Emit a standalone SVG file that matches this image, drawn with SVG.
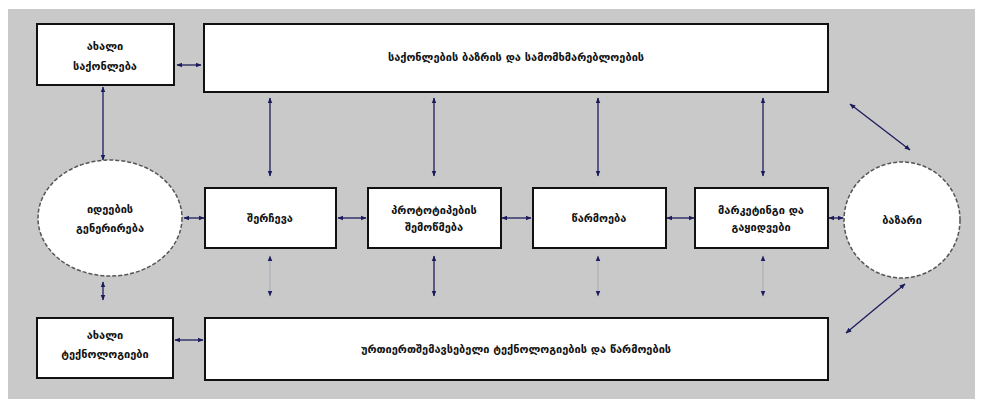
<svg xmlns="http://www.w3.org/2000/svg" width="984" height="406" viewBox="0 0 984 406">
<style>
.bg{fill:#c9c9c9}
.box{fill:#fff;stroke:#111;stroke-width:2}
.ell{fill:#fff;stroke:#555;stroke-width:1.5;stroke-dasharray:4 2}
.t{font-family:"DejaVu Sans","Noto Sans",sans-serif;font-size:11px;font-weight:bold;fill:#111;text-anchor:middle}
.c{stroke:#1c1c5c;stroke-width:1.3;fill:none}
</style>
<defs>
<marker id="ah" viewBox="0 0 10 10" refX="9" refY="5" markerWidth="6" markerHeight="6" orient="auto-start-reverse" markerUnits="userSpaceOnUse">
<path d="M0,1 L10,5 L0,9 z" fill="#1c1c5c"/>
</marker>
</defs>
<rect x="0" y="0" width="984" height="406" fill="#fff"/>
<rect class="bg" x="8" y="9" width="967" height="390"/>

<g id="connectors">
<line class="c" x1="177" y1="65" x2="201" y2="65" marker-start="url(#ah)" marker-end="url(#ah)"/>
<line class="c" x1="103" y1="87" x2="103" y2="160" marker-start="url(#ah)" marker-end="url(#ah)"/>
<line class="c" x1="103" y1="282" x2="103" y2="300" marker-start="url(#ah)" marker-end="url(#ah)"/>
<line class="c" x1="175" y1="340" x2="203" y2="340" marker-start="url(#ah)" marker-end="url(#ah)"/>
<line class="c" x1="270" y1="98" x2="270" y2="176" marker-start="url(#ah)" marker-end="url(#ah)"/>
<line class="c" x1="434" y1="98" x2="434" y2="176" marker-start="url(#ah)" marker-end="url(#ah)"/>
<line class="c" x1="598" y1="98" x2="598" y2="176" marker-start="url(#ah)" marker-end="url(#ah)"/>
<line class="c" x1="763" y1="98" x2="763" y2="176" marker-start="url(#ah)" marker-end="url(#ah)"/>
<line class="c" x1="270" y1="256" x2="270" y2="296" stroke-opacity="0.15" marker-start="url(#ah)" marker-end="url(#ah)"/>
<line class="c" x1="434" y1="256" x2="434" y2="296" marker-start="url(#ah)" marker-end="url(#ah)"/>
<line class="c" x1="598" y1="256" x2="598" y2="296" stroke-opacity="0.15" marker-start="url(#ah)" marker-end="url(#ah)"/>
<line class="c" x1="763" y1="256" x2="763" y2="296" stroke-opacity="0.15" marker-start="url(#ah)" marker-end="url(#ah)"/>
<line class="c" x1="184" y1="218" x2="204" y2="218" marker-start="url(#ah)" marker-end="url(#ah)"/>
<line class="c" x1="338" y1="218" x2="366" y2="218" marker-start="url(#ah)" marker-end="url(#ah)"/>
<line class="c" x1="502" y1="218" x2="531" y2="218" marker-start="url(#ah)" marker-end="url(#ah)"/>
<line class="c" x1="667" y1="218" x2="694" y2="218" marker-start="url(#ah)" marker-end="url(#ah)"/>
<line class="c" x1="829" y1="218" x2="843" y2="218" marker-start="url(#ah)" marker-end="url(#ah)"/>
<line class="c" x1="850" y1="104" x2="910" y2="150" marker-start="url(#ah)" marker-end="url(#ah)"/>
<line class="c" x1="905" y1="284" x2="846" y2="333" marker-start="url(#ah)" marker-end="url(#ah)"/>
</g>

<g id="new-goods">
<rect class="box" x="37" y="24" width="137" height="61"/>
<text class="t" x="105" y="50">ახალი</text>
<text class="t" x="105" y="70">საქონლება</text>
</g>
<g id="market-research">
<rect class="box" x="204" y="24" width="624" height="68"/>
<text class="t" x="516" y="61">საქონლების ბაზრის და სამომხმარებლოების</text>
</g>
<g id="idea-generation">
<ellipse class="ell" cx="110" cy="218" rx="72" ry="58"/>
<text class="t" x="110" y="213">იდეების</text>
<text class="t" x="110" y="232">გენერირება</text>
</g>
<g id="selection">
<rect class="box" x="205" y="188" width="131" height="60"/>
<text class="t" x="270" y="222">შერჩევა</text>
</g>
<g id="prototype">
<rect class="box" x="368" y="188" width="133" height="60"/>
<text class="t" x="434" y="214">პროტოტიპების</text>
<text class="t" x="434" y="231">შემოწმება</text>
</g>
<g id="production">
<rect class="box" x="533" y="188" width="133" height="60"/>
<text class="t" x="599" y="222">წარმოება</text>
</g>
<g id="marketing">
<rect class="box" x="695" y="188" width="133" height="60"/>
<text class="t" x="761" y="214">მარკეტინგი და</text>
<text class="t" x="761" y="231">გაყიდვები</text>
</g>
<g id="market">
<ellipse class="ell" cx="902" cy="220" rx="58" ry="58"/>
<text class="t" x="902" y="224">ბაზარი</text>
</g>
<g id="new-tech">
<rect class="box" x="37" y="318" width="136" height="60"/>
<text class="t" x="105" y="339">ახალი</text>
<text class="t" x="105" y="358">ტექნოლოგიები</text>
</g>
<g id="complementary">
<rect class="box" x="205" y="318" width="623" height="62"/>
<text class="t" x="516" y="353">ურთიერთშემავსებელი ტექნოლოგიების და წარმოების</text>
</g>
</svg>
